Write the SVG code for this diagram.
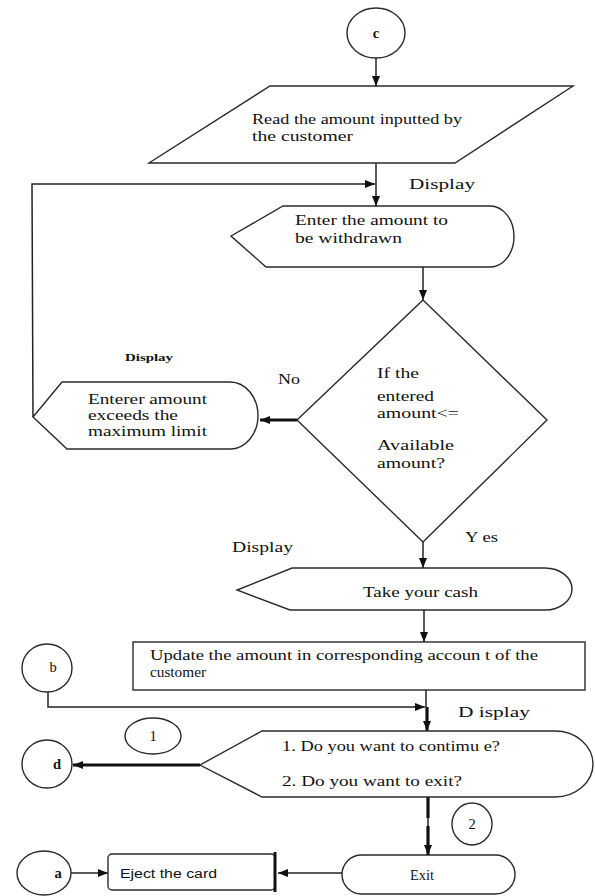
<svg xmlns="http://www.w3.org/2000/svg" width="595" height="896" viewBox="0 0 595 896">
<style>
.s{fill:#fff;stroke:#2a2a2a;stroke-width:1.4}
.t{font-family:"Liberation Serif","Times New Roman",serif;font-size:14.5px;fill:#111}
.sm{font-family:"Liberation Serif","Times New Roman",serif;font-size:10.5px;fill:#111;font-weight:bold}
.ss{font-family:"Liberation Sans",Arial,sans-serif;font-size:12px;fill:#111}
.c{fill:none;stroke:#222;stroke-width:1.5}
.k{fill:none;stroke:#111;stroke-width:3.2}
</style>
<defs>
<marker id="ah" viewBox="0 0 10 8" refX="10" refY="4" markerWidth="10" markerHeight="8" markerUnits="userSpaceOnUse" orient="auto">
<path d="M0,0 L10,4 L0,8 Z" fill="#111"/>
</marker>
</defs>

<g id="connectors">
<line class="c" x1="376" y1="58" x2="376" y2="86" marker-end="url(#ah)"/>
<line class="c" x1="376" y1="163" x2="376" y2="206" marker-end="url(#ah)"/>
<polyline class="c" points="33,417 32,184 375,184" stroke-width="2" marker-end="url(#ah)"/>
<line class="c" x1="423" y1="267" x2="423" y2="300" marker-end="url(#ah)"/>
<line class="k" x1="297" y1="420" x2="260" y2="420" marker-end="url(#ah)"/>
<line class="c" x1="423" y1="542" x2="423" y2="568" marker-end="url(#ah)"/>
<line class="c" x1="424" y1="610" x2="424" y2="642" marker-end="url(#ah)"/>
<polyline class="c" points="48,692 48,707 425,707" stroke-width="2" marker-end="url(#ah)"/>
<line class="c" x1="426" y1="690" x2="426" y2="707"/>
<line class="k" x1="427" y1="707" x2="427" y2="731" marker-end="url(#ah)"/>
<line class="k" x1="200" y1="765" x2="73" y2="765" marker-end="url(#ah)"/>
<line class="k" x1="428" y1="797" x2="428" y2="818" stroke-width="4"/>
<line class="c" x1="428" y1="818" x2="428" y2="826"/>
<line class="k" x1="428" y1="826" x2="428" y2="855" marker-end="url(#ah)"/>
<line class="c" x1="342" y1="873" x2="278" y2="873" marker-end="url(#ah)"/>
<line class="c" x1="71" y1="873" x2="108" y2="873" marker-end="url(#ah)"/>
</g>

<g id="node-c">
<ellipse class="s" cx="376" cy="33" rx="29" ry="25"/>
<text class="t" x="376" y="38" text-anchor="middle" font-weight="bold" font-size="13">c</text>
</g>

<g id="node-read">
<polygon class="s" points="270,86 573,86 455,163 149,163"/>
<text class="t" x="252" y="124" textLength="210" lengthAdjust="spacingAndGlyphs">Read the amount inputted by</text>
<text class="t" x="252" y="141" textLength="101" lengthAdjust="spacingAndGlyphs">the customer</text>
</g>

<text class="t" x="409" y="189" textLength="66" lengthAdjust="spacingAndGlyphs">Display</text>

<g id="node-enter">
<path class="s" d="M283,206 L490,206 A24 30.5 0 0 1 490,267 L266,267 L231,236 Z"/>
<text class="t" x="295" y="225" textLength="153" lengthAdjust="spacingAndGlyphs">Enter the amount to</text>
<text class="t" x="295" y="243" textLength="107" lengthAdjust="spacingAndGlyphs">be withdrawn</text>
</g>

<g id="node-decision">
<polygon class="s" points="423,300 547,420 423,542 297,420"/>
<text class="t" x="377" y="378" textLength="42" lengthAdjust="spacingAndGlyphs">If the</text>
<text class="t" x="377" y="401" textLength="57" lengthAdjust="spacingAndGlyphs">entered</text>
<text class="t" x="377" y="418" textLength="82" lengthAdjust="spacingAndGlyphs">amount&lt;=</text>
<text class="t" x="377" y="450" textLength="77" lengthAdjust="spacingAndGlyphs">Available</text>
<text class="t" x="377" y="468" textLength="68" lengthAdjust="spacingAndGlyphs">amount?</text>
</g>

<text class="sm" x="125" y="361" textLength="48" lengthAdjust="spacingAndGlyphs">Display</text>
<text class="t" x="278" y="384" textLength="22" lengthAdjust="spacingAndGlyphs">No</text>

<g id="node-exceeds">
<path class="s" d="M62,382 L230,382 A28 33.5 0 0 1 230,449 L67,449 L33,417 Z"/>
<text class="t" x="88" y="404" textLength="119" lengthAdjust="spacingAndGlyphs">Enterer amount</text>
<text class="t" x="88" y="420" textLength="90" lengthAdjust="spacingAndGlyphs">exceeds the</text>
<text class="t" x="88" y="436" textLength="119" lengthAdjust="spacingAndGlyphs">maximum limit</text>
</g>

<text class="t" x="465" y="542" textLength="33" lengthAdjust="spacingAndGlyphs">Y es</text>
<text class="t" x="232" y="552" textLength="61" lengthAdjust="spacingAndGlyphs">Display</text>

<g id="node-cash">
<path class="s" d="M292,568 L545,568 A27 21 0 0 1 545,610 L290,610 L237,590 Z"/>
<text class="t" x="363" y="597" textLength="115" lengthAdjust="spacingAndGlyphs">Take your cash</text>
</g>

<g id="node-update">
<rect class="s" x="133" y="642" width="452" height="48" stroke-width="2.2"/>
<text class="t" x="150" y="660" textLength="388" lengthAdjust="spacingAndGlyphs">Update the amount in corresponding accoun t of the</text>
<text class="t" x="150" y="677" textLength="56" lengthAdjust="spacingAndGlyphs">customer</text>
</g>

<g id="node-b">
<ellipse class="s" cx="47" cy="668" rx="25" ry="24"/>
<text class="t" x="53" y="672" text-anchor="middle" font-size="13">b</text>
</g>

<text class="t" x="458" y="717" textLength="72" lengthAdjust="spacingAndGlyphs">D isplay</text>

<g id="node-ask">
<path class="s" d="M262,731 L555,731 A38 33 0 0 1 555,797 L262,797 L200,765 Z"/>
<text class="t" x="282" y="751" textLength="218" lengthAdjust="spacingAndGlyphs">1. Do you want to contimu e?</text>
<text class="t" x="282" y="786" textLength="180" lengthAdjust="spacingAndGlyphs">2. Do you want to exit?</text>
</g>

<g id="node-1">
<ellipse class="s" cx="153" cy="736" rx="28" ry="18"/>
<text class="t" x="153" y="741" text-anchor="middle" font-size="13">1</text>
</g>

<g id="node-d">
<ellipse class="s" cx="47" cy="764" rx="25" ry="24"/>
<text class="t" x="57" y="769" text-anchor="middle" font-size="13" font-weight="bold">d</text>
</g>

<g id="node-2">
<ellipse class="s" cx="472" cy="824" rx="20" ry="21"/>
<text class="t" x="472" y="829" text-anchor="middle" font-size="13">2</text>
</g>

<g id="node-exit">
<rect class="s" x="342" y="855" width="173" height="39" rx="19.5"/>
<text class="t" x="422" y="880" text-anchor="middle" font-size="12.5" textLength="24" lengthAdjust="spacingAndGlyphs">Exit</text>
</g>

<g id="node-eject">
<rect class="s" x="108" y="854" width="167" height="36" rx="4"/>
<line x1="275" y1="852" x2="275" y2="892" stroke="#111" stroke-width="3"/>
<text class="ss" x="120" y="878" textLength="97" lengthAdjust="spacingAndGlyphs">Eject the card</text>
</g>

<g id="node-a">
<ellipse class="s" cx="44" cy="873" rx="27" ry="22"/>
<text class="t" x="58" y="878" text-anchor="middle" font-size="13" font-weight="bold">a</text>
</g>
</svg>
